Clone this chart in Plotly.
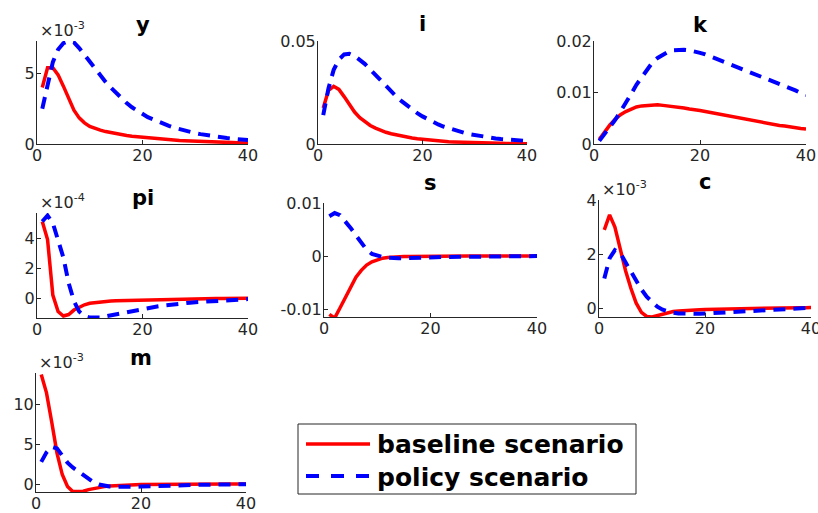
import plotly.graph_objects as go

W, H = 818, 513
t = list(range(1, 41))

# ---- data ----
y_base = [4.0, 5.4, 5.4, 4.9, 4.1, 3.2, 2.4, 1.85, 1.5, 1.25, 1.1, 0.98, 0.88, 0.8, 0.72, 0.66, 0.6, 0.55, 0.51, 0.47,
          0.43, 0.39, 0.36, 0.33, 0.3, 0.28, 0.25, 0.23, 0.21, 0.19, 0.17, 0.16, 0.14, 0.13, 0.12, 0.11, 0.1, 0.09, 0.08, 0.075]
y_pol = [2.5, 4.3, 5.8, 6.7, 7.15, 7.3, 7.2, 6.8, 6.3, 5.8, 5.3, 4.85, 4.4, 4.0, 3.6, 3.25, 2.9, 2.6, 2.35, 2.1,
         1.9, 1.75, 1.58, 1.42, 1.28, 1.15, 1.04, 0.94, 0.85, 0.77, 0.7, 0.63, 0.57, 0.52, 0.47, 0.42, 0.38, 0.34, 0.31, 0.28]

i_base = [0.0175, 0.026, 0.028, 0.0265, 0.023, 0.019, 0.0155, 0.0128, 0.0107, 0.009,
          0.0077, 0.0066, 0.0057, 0.005, 0.0044, 0.0038, 0.0033, 0.0029, 0.0025, 0.0022,
          0.0019, 0.0017, 0.0015, 0.0013, 0.0011, 0.001, 0.00088, 0.00078, 0.0007, 0.0006,
          0.00053, 0.00047, 0.00042, 0.00037, 0.00033, 0.00029, 0.00026, 0.00023, 0.0002, 0.00018]
i_pol = [0.014, 0.027, 0.036, 0.041, 0.0435, 0.0438, 0.0428, 0.041, 0.0388, 0.0362,
         0.0335, 0.0308, 0.0281, 0.0255, 0.023, 0.0208, 0.0187, 0.0168, 0.015, 0.0134,
         0.012, 0.0107, 0.0095, 0.0085, 0.0076, 0.0068, 0.006, 0.0054, 0.0048, 0.0043,
         0.0038, 0.0034, 0.003, 0.0027, 0.0024, 0.0022, 0.002, 0.0018, 0.0016, 0.0015]

k_base = [0.0009, 0.0024, 0.0037, 0.0048, 0.0057, 0.0063, 0.0068, 0.0072, 0.0074, 0.0075,
          0.0076, 0.0076, 0.0075, 0.0074, 0.0073, 0.0071, 0.007, 0.0068, 0.0067, 0.0065,
          0.0063, 0.0061, 0.0059, 0.0057, 0.0055, 0.0053, 0.0051, 0.0049, 0.0047, 0.0045,
          0.0043, 0.0041, 0.004, 0.0038, 0.0036, 0.0035, 0.0033, 0.0032, 0.003, 0.0029]
k_pol = [0.0006, 0.0019, 0.0033, 0.0047, 0.0063, 0.0079, 0.0097, 0.0115, 0.013, 0.0145,
         0.0158, 0.0167, 0.0174, 0.0179, 0.0182, 0.0183, 0.0183, 0.0182, 0.018, 0.0177,
         0.0174, 0.017, 0.0166, 0.0162, 0.0158, 0.0154, 0.015, 0.0146, 0.0142, 0.0138,
         0.0133, 0.0129, 0.0125, 0.0121, 0.0117, 0.0112, 0.0108, 0.0104, 0.0099, 0.0095]

pi_base = [5.1, 3.9, 0.2, -0.9, -1.2, -1.1, -0.8, -0.6, -0.45, -0.35,
           -0.3, -0.26, -0.23, -0.2, -0.18, -0.17, -0.15, -0.14, -0.13, -0.12,
           -0.11, -0.1, -0.09, -0.085, -0.08, -0.075, -0.07, -0.065, -0.06, -0.055,
           -0.05, -0.045, -0.04, -0.035, -0.03, -0.025, -0.02, -0.015, -0.01, -0.01]
pi_pol = [5.1, 5.5, 5.0, 3.8, 2.7, 1.0, -0.2, -0.9, -1.2, -1.3,
          -1.33, -1.3, -1.22, -1.15, -1.08, -1.0, -0.93, -0.86, -0.78, -0.7,
          -0.65, -0.6, -0.55, -0.5, -0.45, -0.4, -0.37, -0.34, -0.31, -0.28,
          -0.26, -0.23, -0.21, -0.19, -0.17, -0.15, -0.13, -0.11, -0.09, -0.07]

s_base = [-0.0110, -0.0117, -0.0098, -0.0078, -0.0058, -0.0040, -0.0027, -0.0017, -0.0011, -0.0007,
          -0.0004, -0.0003, -0.0002, -0.00015, -0.0001, -0.00008, -0.00006, -0.00005, -0.00004, -0.00003,
          -0.00003, -0.00003, -0.00002, -0.00002, -0.00002, -0.00002, -0.00001, -0.00001, -0.00001, -0.00001,
          -0.00001, -0.00001, 0.0, 0.0, 0.0, 0.0, 0.0, 0.0, 0.0, 0.0]
s_pol = [0.0075, 0.0081, 0.0077, 0.0066, 0.0053, 0.0039, 0.0024, 0.0012, 0.0004, 0.0,
         -0.0002, -0.0003, -0.0004, -0.0004, -0.0004, -0.0004, -0.00035, -0.0003, -0.0003, -0.00025,
         -0.00022, -0.0002, -0.00018, -0.00016, -0.00014, -0.00012, -0.0001, -0.00009, -0.00008, -0.00007,
         -0.00006, -0.00005, -0.00004, -0.00004, -0.00003, -0.00003, -0.00002, -0.00002, -0.00001, -0.00001]

c_base = [2.9, 3.45, 3.0, 2.2, 1.4, 0.75, 0.2, -0.15, -0.3, -0.32,
          -0.27, -0.2, -0.15, -0.12, -0.1, -0.08, -0.07, -0.06, -0.05, -0.04,
          -0.035, -0.03, -0.025, -0.02, -0.015, -0.01, -0.005, 0.0, 0.0, 0.005,
          0.01, 0.01, 0.015, 0.015, 0.02, 0.02, 0.02, 0.025, 0.025, 0.03]
c_pol = [1.1, 1.85, 2.15, 2.05, 1.7, 1.35, 1.0, 0.7, 0.43, 0.22,
         0.06, -0.05, -0.12, -0.16, -0.19, -0.2, -0.21, -0.21, -0.2, -0.19,
         -0.18, -0.17, -0.16, -0.14, -0.13, -0.12, -0.1, -0.09, -0.08, -0.06,
         -0.05, -0.04, -0.03, -0.02, -0.01, 0.0, 0.01, 0.01, 0.02, 0.02]

m_base = [13.8, 11.5, 7.8, 3.9, 1.2, -0.3, -0.95, -0.98, -0.9, -0.7,
          -0.55, -0.42, -0.32, -0.25, -0.2, -0.16, -0.13, -0.1, -0.08, -0.07,
          -0.06, -0.05, -0.045, -0.04, -0.035, -0.03, -0.025, -0.02, -0.02, -0.015,
          -0.015, -0.01, -0.01, -0.01, -0.005, -0.005, -0.005, 0.0, 0.0, 0.0]
m_pol = [2.8, 4.0, 4.7, 4.5, 3.6, 2.7, 2.1, 1.6, 1.1, 0.6,
         0.2, -0.05, -0.2, -0.3, -0.35, -0.37, -0.37, -0.36, -0.34, -0.32,
         -0.29, -0.27, -0.25, -0.23, -0.21, -0.19, -0.17, -0.15, -0.13, -0.12,
         -0.1, -0.09, -0.08, -0.07, -0.06, -0.05, -0.04, -0.03, -0.03, -0.02]

series_names = ["baseline scenario", "policy scenario"]
x_ticks = [0, 20, 40]

# name, base, policy, scale, y-range (scaled), y tick values (scaled), tick labels, exponent
panels = [
    ("y", y_base, y_pol, 1e-3, [0, 7.3], [0, 5], ["0", "5"], "-3"),
    ("i", i_base, i_pol, 1, [0, 0.05], [0, 0.05], ["0", "0.05"], None),
    ("k", k_base, k_pol, 1, [0, 0.02], [0, 0.01, 0.02], ["0", "0.01", "0.02"], None),
    ("pi", pi_base, pi_pol, 1e-4, [-1.33, 5.67], [0, 2, 4], ["0", "2", "4"], "-4"),
    ("s", s_base, s_pol, 1, [-0.0115, 0.01], [-0.01, 0, 0.01], ["-0.01", "0", "0.01"], None),
    ("c", c_base, c_pol, 1e-3, [-0.32, 4.0], [0, 2, 4], ["0", "2", "4"], "-3"),
    ("m", m_base, m_pol, 1e-3, [-1.0, 14.0], [0, 5, 10], ["0", "5", "10"], "-3"),
]

# ---- layout (pixel boxes: left, right, top, bottom) ----
boxes = [
    (37, 248, 41, 144),
    (318, 527, 41, 144),
    (594, 806, 41, 144),
    (37, 248, 213, 318),
    (324, 537, 203, 317),
    (599, 811, 200, 317),
    (36, 246, 373, 492),
]
title_base = [30, 29, 30, 203, 188, 187, 363]

RED, BLUE, AX = "#FF0000", "#0000FF", "#262626"
TICKFONT = dict(family="DejaVu Sans", size=16, color=AX)

fig = go.Figure()
annotations = []
layout = {}
for n, (p, box, tb) in enumerate(zip(panels, boxes, title_base), start=1):
    name, base, pol, sc, yr, yt, ytt, expo = p
    l, r, tp, bt = box
    xa = "x" if n == 1 else f"x{n}"
    ya = "y" if n == 1 else f"y{n}"
    fig.add_trace(go.Scatter(x=t, y=[v * sc for v in base], mode="lines", xaxis=xa, yaxis=ya,
                             line=dict(color=RED, width=3.5), name=series_names[0], showlegend=False))
    fig.add_trace(go.Scatter(x=t, y=[v * sc for v in pol], mode="lines", xaxis=xa, yaxis=ya,
                             line=dict(color=BLUE, width=4, dash="12px,8px"), name=series_names[1],
                             showlegend=False))
    axcommon = dict(showline=True, linecolor=AX, linewidth=1, ticks="inside", ticklen=4, tickcolor=AX,
                    showgrid=False, zeroline=False, tickfont=TICKFONT, mirror=False, fixedrange=True,
                    automargin=False, ticklabeloverflow="allow")
    layout["xaxis" if n == 1 else f"xaxis{n}"] = dict(
        domain=[l / W, r / W], range=[0, 40], tickvals=x_ticks, ticktext=[str(v) for v in x_ticks],
        anchor=ya, ticklabelstandoff=-3, **axcommon)
    layout["yaxis" if n == 1 else f"yaxis{n}"] = dict(
        domain=[(H - bt) / H, (H - tp) / H], range=[yr[0] * sc, yr[1] * sc],
        tickvals=[v * sc for v in yt], ticktext=ytt, anchor=xa, ticklabelstandoff=-2, **axcommon)
    annotations.append(dict(text=f"<b>{name}</b>", x=(l + r) / 2 / W, y=(H - tb - 9) / H,
                            xref="paper", yref="paper", xanchor="center", yanchor="bottom",
                            showarrow=False, font=dict(family="DejaVu Sans", size=21, color="#000000")))
    if expo:
        annotations.append(dict(text=f"×10<sup>{expo}</sup>", x=(l + 1) / W, y=(H - tp - 1) / H,
                                xref="paper", yref="paper", xanchor="left", yanchor="bottom",
                                showarrow=False, font=dict(family="DejaVu Sans", size=16, color=AX)))

# ---- legend drawn as box + samples + labels ----
shapes = [
    dict(type="rect", xref="paper", yref="paper", x0=298 / W, x1=636 / W, y0=(H - 494) / H, y1=(H - 424) / H,
         line=dict(color=AX, width=1), fillcolor="white"),
    dict(type="line", xref="paper", yref="paper", x0=306 / W, x1=370 / W, y0=(H - 444) / H, y1=(H - 444) / H,
         line=dict(color=RED, width=3.5)),
    dict(type="line", xref="paper", yref="paper", x0=306 / W, x1=370 / W, y0=(H - 476) / H, y1=(H - 476) / H,
         line=dict(color=BLUE, width=4, dash="13px,12px")),
]
for lbl, yc in zip(series_names, [444, 477]):
    annotations.append(dict(text=f"<b>{lbl}</b>", x=375 / W, y=(H - yc) / H, xref="paper", yref="paper",
                            xanchor="left", yanchor="middle", showarrow=False,
                            font=dict(family="DejaVu Sans", size=25, color="#000000")))

fig.update_layout(width=W, height=H, margin=dict(l=0, r=0, t=0, b=0, autoexpand=False), paper_bgcolor="white",
                  plot_bgcolor="white", showlegend=False, annotations=annotations, shapes=shapes, **layout)
fig.write_html("out.html", post_script="document.body.style.margin='0';",
               config={"displayModeBar": False})
